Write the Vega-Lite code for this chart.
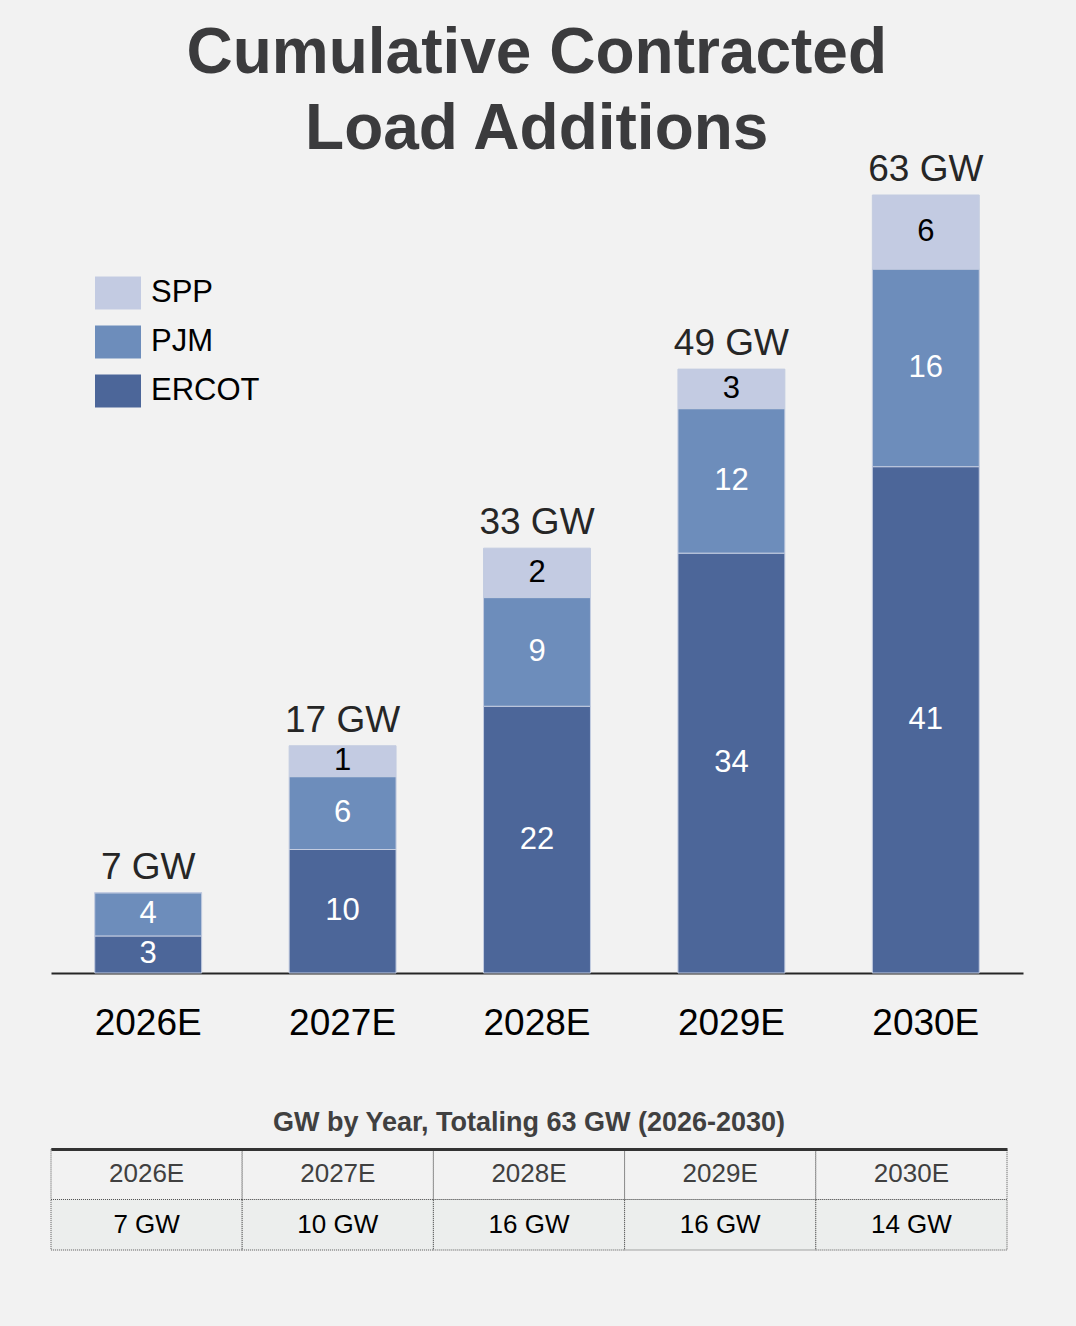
{
  "$schema": "https://vega.github.io/schema/vega-lite/v6.json",
  "background": "#f2f2f2",
  "padding": {"left": 50, "top": 22, "right": 54, "bottom": 78},
  "title": {
    "text": ["Cumulative Contracted", "Load Additions"],
    "fontSize": 64,
    "fontWeight": "bold",
    "font": "Liberation Sans",
    "color": "#3b3b3d",
    "lineHeight": 76,
    "anchor": "middle",
    "offset": -11
  },
  "datasets": {
    "stack": [
      {"year": "2026E", "region": "ERCOT", "value": 3.0, "label": 3},
      {"year": "2026E", "region": "PJM", "value": 3.5, "label": 4},
      {"year": "2026E", "region": "SPP", "value": 0, "label": 0},
      {"year": "2027E", "region": "ERCOT", "value": 10.0, "label": 10},
      {"year": "2027E", "region": "PJM", "value": 5.9, "label": 6},
      {"year": "2027E", "region": "SPP", "value": 2.5, "label": 1},
      {"year": "2028E", "region": "ERCOT", "value": 21.6, "label": 22},
      {"year": "2028E", "region": "PJM", "value": 8.8, "label": 9},
      {"year": "2028E", "region": "SPP", "value": 4.0, "label": 2},
      {"year": "2029E", "region": "ERCOT", "value": 34.0, "label": 34},
      {"year": "2029E", "region": "PJM", "value": 11.7, "label": 12},
      {"year": "2029E", "region": "SPP", "value": 3.2, "label": 3},
      {"year": "2030E", "region": "ERCOT", "value": 41.0, "label": 41},
      {"year": "2030E", "region": "PJM", "value": 16.0, "label": 16},
      {"year": "2030E", "region": "SPP", "value": 6.0, "label": 6}
    ],
    "totals": [
      {"year": "2026E", "label": "7 GW"},
      {"year": "2027E", "label": "17 GW"},
      {"year": "2028E", "label": "33 GW"},
      {"year": "2029E", "label": "49 GW"},
      {"year": "2030E", "label": "63 GW"}
    ],
    "table": [
      {"col": "2026E", "row": "head", "text": "2026E"},
      {"col": "2027E", "row": "head", "text": "2027E"},
      {"col": "2028E", "row": "head", "text": "2028E"},
      {"col": "2029E", "row": "head", "text": "2029E"},
      {"col": "2030E", "row": "head", "text": "2030E"},
      {"col": "2026E", "row": "value", "text": "7 GW"},
      {"col": "2027E", "row": "value", "text": "10 GW"},
      {"col": "2028E", "row": "value", "text": "16 GW"},
      {"col": "2029E", "row": "value", "text": "16 GW"},
      {"col": "2030E", "row": "value", "text": "14 GW"}
    ]
  },
  "vconcat": [
    {
      "width": 972,
      "height": 778,
      "encoding": {
        "x": {
          "field": "year",
          "type": "nominal",
          "scale": {"paddingInner": 0.45, "paddingOuter": 0.225},
          "axis": {
            "title": null,
            "labelAngle": 0,
            "labelFontSize": 37,
            "labelFont": "Liberation Sans",
            "labelColor": "#000000",
            "labelPadding": 32,
            "ticks": false,
            "domainColor": "#262626",
            "domainWidth": 2,
            "grid": false
          }
        }
      },
      "layer": [
        {
          "data": {"name": "stack"},
          "mark": {"type": "bar", "stroke": "#c3cce0", "strokeWidth": 1},
          "encoding": {
            "y": {"field": "value", "type": "quantitative", "stack": "zero", "scale": {"domain": [0, 63], "nice": false}, "axis": null},
            "color": {
              "field": "region",
              "type": "nominal",
              "scale": {"domain": ["SPP", "PJM", "ERCOT"], "range": ["#c3cbe2", "#6d8dbb", "#4c6699"]},
              "legend": {
                "title": null,
                "orient": "none",
                "legendX": 44,
                "legendY": 75,
                "symbolType": "M-1,-0.717L1,-0.717L1,0.717L-1,0.717Z",
                "symbolSize": 2116,
                "symbolStrokeWidth": 0,
                "symbolOpacity": 1,
                "labelFontSize": 31,
                "labelFont": "Liberation Sans",
                "labelColor": "#000000",
                "labelOffset": 10,
                "rowPadding": 9
              }
            },
            "order": {"field": "region", "sort": "ascending"}
          }
        },
        {
          "data": {"name": "stack"},
          "transform": [{"filter": "datum.value > 0"}],
          "mark": {"type": "text", "fontSize": 31, "font": "Liberation Sans", "baseline": "middle"},
          "encoding": {
            "y": {"field": "value", "type": "quantitative", "stack": "zero", "bandPosition": 0.5},
            "detail": {"field": "region"},
            "order": {"field": "region", "sort": "ascending"},
            "text": {"field": "label", "type": "quantitative"},
            "color": {"condition": {"test": "datum.region === 'SPP'", "value": "#000000"}, "value": "#ffffff"}
          }
        },
        {
          "data": {"name": "stack"},
          "transform": [
            {"aggregate": [{"op": "sum", "field": "value", "as": "top"}], "groupby": ["year"]},
            {"lookup": "year", "from": {"data": {"name": "totals"}, "key": "year", "fields": ["label"]}}
          ],
          "mark": {"type": "text", "fontSize": 37, "font": "Liberation Sans", "baseline": "alphabetic", "dy": -14, "color": "#262626"},
          "encoding": {
            "y": {"field": "top", "type": "quantitative"},
            "text": {"field": "label"}
          }
        }
      ]
    },
    {
      "data": {"name": "table"},
      "width": 956,
      "height": 101,
      "title": {
        "text": "GW by Year, Totaling 63 GW (2026-2030)",
        "fontSize": 27,
        "fontWeight": "bold",
        "font": "Liberation Sans",
        "color": "#404040",
        "anchor": "middle",
        "offset": 12
      },
      "encoding": {
        "x": {
          "field": "col",
          "type": "nominal",
          "scale": {"paddingInner": 0, "paddingOuter": 0},
          "axis": {"orient": "top", "title": null, "labels": false, "ticks": false, "domainColor": "#333333", "domainWidth": 3, "grid": false}
        },
        "y": {"field": "row", "type": "nominal", "sort": ["head", "value"], "scale": {"paddingInner": 0, "paddingOuter": 0}, "axis": null}
      },
      "layer": [
        {
          "mark": {"type": "rect", "stroke": "#555555", "strokeWidth": 1, "strokeDash": [1, 1]},
          "encoding": {
            "fill": {"condition": {"test": "datum.row === 'value'", "value": "#eceeed"}, "value": "#f2f2f2"}
          }
        },
        {
          "mark": {"type": "text", "fontSize": 26, "font": "Liberation Sans", "baseline": "middle"},
          "encoding": {
            "text": {"field": "text"},
            "color": {"condition": {"test": "datum.row === 'value'", "value": "#000000"}, "value": "#404040"}
          }
        }
      ]
    }
  ],
  "spacing": 67,
  "config": {
    "view": {"stroke": null},
    "font": "Liberation Sans"
  }
}
